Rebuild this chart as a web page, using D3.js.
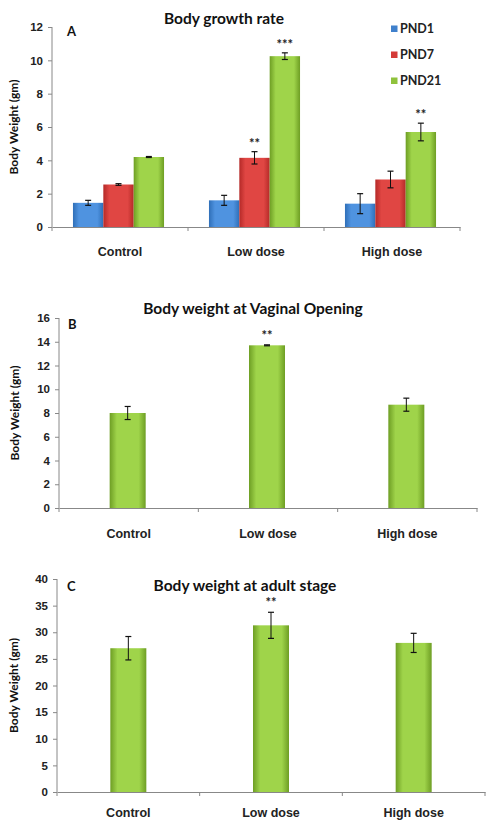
<!DOCTYPE html>
<html><head><meta charset="utf-8">
<script src="https://cdn.jsdelivr.net/npm/d3@7"></script>
<style>
body{margin:0;background:#fff;}
svg{display:block;font-family:Lato,Carlito,"Open Sans",sans-serif;}
</style></head><body>
<svg id="c" width="486" height="822"></svg>
<script>
const categories = ["Control", "Low dose", "High dose"];
const seriesA = ["PND1", "PND7", "PND21"];
const valuesA = [[1.45, 2.55, 4.2], [1.6, 4.15, 10.25], [1.4, 2.85, 5.7]];
const errorsA = [[0.15, 0.05, 0.03], [0.3, 0.37, 0.2], [0.6, 0.5, 0.53]];
const starsA = [["", "", ""], ["", "**", "***"], ["", "", "**"]];
const ticksA = [0, 2, 4, 6, 8, 10, 12];
const valuesB = [8.0, 13.7, 8.7];
const errorsB = [0.55, 0.04, 0.55];
const starsB = ["", "**", ""];
const ticksB = [0, 2, 4, 6, 8, 10, 12, 14, 16];
const valuesC = [27.0, 31.3, 28.0];
const errorsC = [2.2, 2.45, 1.8];
const starsC = ["", "**", ""];
const ticksC = [0, 5, 10, 15, 20, 25, 30, 35, 40];

const svg = d3.select("#c");
const defs = svg.append("defs");
function grad(id, edge, mid) {
  const g = defs.append("linearGradient").attr("id", id).attr("x1", "0").attr("x2", "1").attr("y1", "0").attr("y2", "0");
  g.append("stop").attr("offset", "0").attr("stop-color", edge);
  g.append("stop").attr("offset", "0.2").attr("stop-color", mid);
  g.append("stop").attr("offset", "0.8").attr("stop-color", mid);
  g.append("stop").attr("offset", "1").attr("stop-color", edge);
}
grad("gBlue", "#2f6fb8", "#4f93e0");
grad("gRed", "#b52a28", "#e04643");
grad("gGreen", "#6e9e24", "#9fd44a");
const fills = ["url(#gBlue)", "url(#gRed)", "url(#gGreen)"];
const legColors = ["#3f80cc", "#d43b38", "#8fc23c"];

function panel(o) {
  const g = svg.append("g");
  const y = d3.scaleLinear().domain([0, o.max]).range([o.y0, o.y1]);
  const x = d3.scaleBand().domain(categories).range([o.x0, o.x1]);
  const ya = g.append("g").attr("transform", `translate(${o.x0},0)`)
    .call(d3.axisLeft(y).tickValues(o.ticks).tickSize(4).tickPadding(5));
  ya.select(".domain").attr("stroke", "#888").attr("d", `M0,${o.y0}V${o.y1}`);
  ya.selectAll(".tick line").attr("stroke", "#888");
  ya.selectAll("text").attr("font-size", 11.5).attr("font-weight", "bold").attr("fill", "#222");
  const xa = g.append("g").attr("transform", `translate(0,${o.y0})`)
    .call(d3.axisBottom(x).tickSize(0).tickPadding(o.xpad));
  xa.select(".domain").attr("stroke", "#888");
  xa.selectAll("text").attr("font-size", 12.5).attr("font-weight", "bold").attr("fill", "#222");
  const divs = categories.map((c, i) => x(c)).concat([o.x1]);
  g.selectAll(".dv").data(divs).enter().append("line")
    .attr("x1", d => d).attr("x2", d => d).attr("y1", o.y0).attr("y2", o.y0 + 4).attr("stroke", "#888");
  g.append("text").attr("x", o.tx).attr("y", o.ty).attr("text-anchor", "middle")
    .attr("font-size", 15.5).attr("font-weight", "bold").attr("fill", "#111").text(o.title);
  g.append("text").attr("x", o.lx).attr("y", o.ly).attr("font-size", 13).attr("font-weight", "bold").attr("fill", "#111").text(o.letter);
  g.append("text").attr("transform", `translate(${o.yl},${(o.y0 + o.y1) / 2}) rotate(-90)`)
    .attr("text-anchor", "middle").attr("font-size", 12).attr("font-weight", "bold").attr("fill", "#111").text("Body Weight (gm)");
  return {g, x, y};
}

function errBar(g, cx, y, v, e, cap) {
  g.append("line").attr("x1", cx).attr("x2", cx).attr("y1", y(v + e)).attr("y2", y(v - e)).attr("stroke", "#111").attr("stroke-width", 1);
  [v + e, v - e].forEach(t => g.append("line").attr("x1", cx - cap).attr("x2", cx + cap)
    .attr("y1", y(t)).attr("y2", y(t)).attr("stroke", "#111").attr("stroke-width", 1.2));
}

// Panel A
{
  const o = {x0: 52, x1: 460, y0: 227, y1: 27, max: 12, ticks: ticksA, xpad: 20,
    title: "Body growth rate", tx: 224, ty: 24, letter: "A", lx: 67, ly: 36, yl: 18};
  const {g, x, y} = panel(o);
  const xs = d3.scaleBand().domain(seriesA).range([0, x.bandwidth()]).paddingInner(0).paddingOuter(0.74);
  categories.forEach((c, i) => {
    seriesA.forEach((s, j) => {
      const v = valuesA[i][j];
      const bx = x(c) + xs(s) - 1.5;
      g.append("rect").attr("x", bx).attr("width", xs.bandwidth()).attr("y", y(v)).attr("height", y(0) - y(v)).attr("fill", fills[j]);
      const cx = bx + xs.bandwidth() / 2;
      errBar(g, cx, y, v, errorsA[i][j], 3);
      if (starsA[i][j]) g.append("text").attr("x", cx).attr("y", y(v + errorsA[i][j]) - 4).attr("text-anchor", "middle")
        .attr("font-size", 13).attr("font-weight", "bold").attr("fill", "#222").text(starsA[i][j]);
    });
  });
  const leg = g.selectAll(".lg").data(seriesA).enter().append("g")
    .attr("transform", (d, j) => `translate(391,${29 + j * 26})`);
  leg.append("rect").attr("x", 0).attr("y", -3.5).attr("width", 6.5).attr("height", 6.5).attr("fill", (d, j) => legColors[j]);
  leg.append("text").attr("x", 9).attr("y", 0).attr("dy", "0.35em").attr("font-size", 12.5).attr("font-weight", "bold").attr("fill", "#222").text(d => d);
}

function single(o, vals, errs, stars) {
  const {g, x, y} = panel(o);
  const w = o.bw;
  categories.forEach((c, i) => {
    const v = vals[i];
    const cx = x(c) + x.bandwidth() / 2 + o.shift;
    g.append("rect").attr("x", cx - w / 2).attr("width", w).attr("y", y(v)).attr("height", y(0) - y(v)).attr("fill", "url(#gGreen)");
    errBar(g, cx, y, v, errs[i], 3);
    if (stars[i]) g.append("text").attr("x", cx).attr("y", y(v + errs[i]) - 5).attr("text-anchor", "middle")
      .attr("font-size", 13).attr("font-weight", "bold").attr("fill", "#222").text(stars[i]);
  });
}

single({x0: 59, x1: 477, y0: 508, y1: 318, max: 16, ticks: ticksB, xpad: 21, bw: 36, shift: -1,
  title: "Body weight  at Vaginal Opening", tx: 253, ty: 314, letter: "B", lx: 68, ly: 329, yl: 19}, valuesB, errorsB, starsB);

single({x0: 57, x1: 485, y0: 792, y1: 579, max: 40, ticks: ticksC, xpad: 16, bw: 36, shift: 0,
  title: "Body weight at adult stage", tx: 245, ty: 591, letter: "C", lx: 67, ly: 591, yl: 18}, valuesC, errorsC, starsC);
</script>
</body></html>
